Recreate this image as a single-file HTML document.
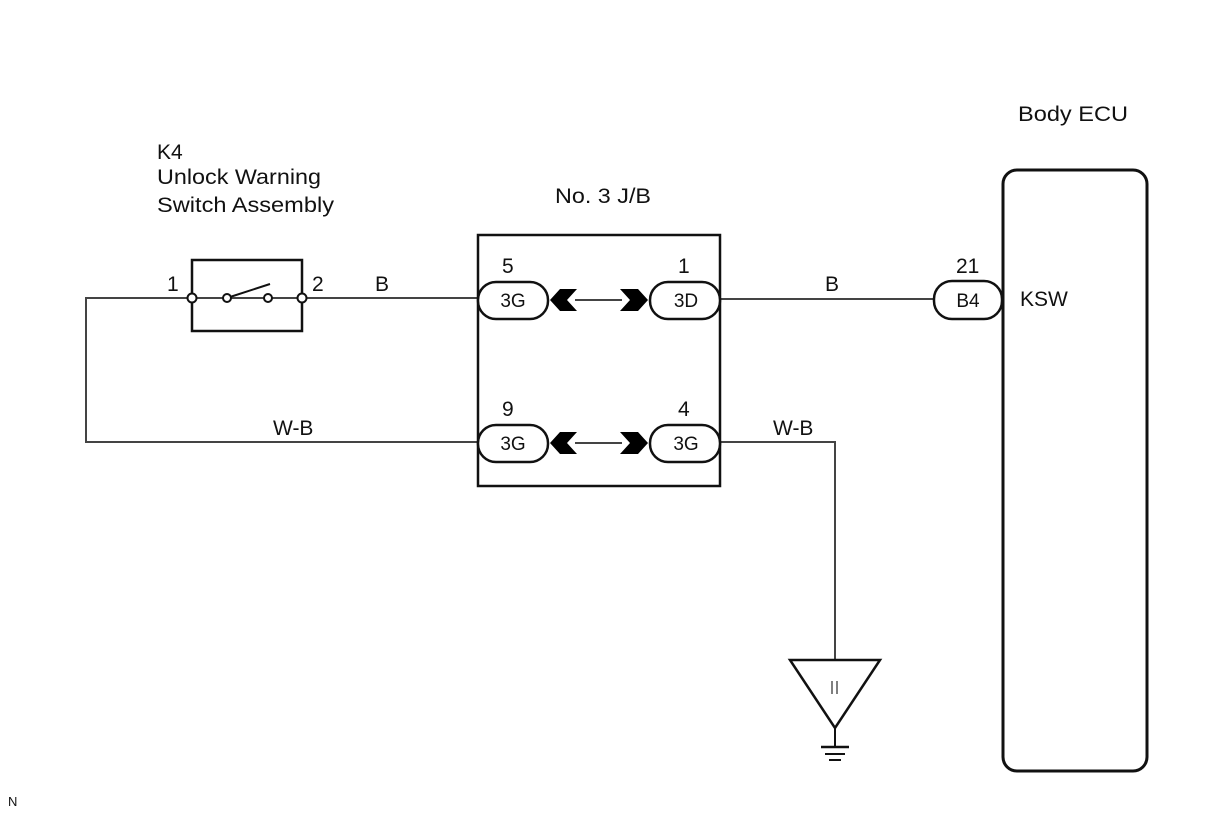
<!DOCTYPE html>
<html><head><style>body{margin:0;background:#fff}svg{display:block}text{font-family:"Liberation Sans",Arial,sans-serif;fill:#111}</style></head>
<body>
<svg width="1210" height="814" viewBox="0 0 1210 814" xmlns="http://www.w3.org/2000/svg">
<g fill="none" stroke="#444">
<polyline points="192,298 86,298 86,442 478,442" stroke-width="2"/>
<line x1="302" y1="298" x2="478" y2="298" stroke-width="2"/>
<line x1="720" y1="299" x2="934" y2="299" stroke-width="2"/>
<polyline points="720,442 835,442 835,660" stroke-width="2"/>
<line x1="575" y1="300" x2="622" y2="300" stroke-width="2"/>
<line x1="575" y1="443" x2="622" y2="443" stroke-width="2"/>
<line x1="192" y1="298" x2="302" y2="298" stroke-width="2"/>
</g>
<g fill="none" stroke="#111">
<rect x="192" y="260" width="110" height="71" stroke-width="2.5"/>
<line x1="230" y1="297" x2="270" y2="284" stroke-width="2"/>
<rect x="478" y="235" width="242" height="251" stroke-width="2.5"/>
<rect x="478" y="282" width="70" height="37" rx="18" fill="#fff" stroke-width="2.5"/>
<rect x="650" y="282" width="70" height="37" rx="18" fill="#fff" stroke-width="2.5"/>
<rect x="478" y="425" width="70" height="37" rx="18" fill="#fff" stroke-width="2.5"/>
<rect x="650" y="425" width="70" height="37" rx="18" fill="#fff" stroke-width="2.5"/>
<rect x="934" y="281" width="68" height="38" rx="18" fill="#fff" stroke-width="2.5"/>
<rect x="1003" y="170" width="144" height="601" rx="14" stroke-width="3"/>
<polygon points="790,660 880,660 835,728" stroke-width="2.5" fill="#fff"/>
<line x1="835" y1="728" x2="835" y2="746" stroke-width="2"/>
<line x1="821" y1="747" x2="849" y2="747" stroke-width="2.5"/>
<line x1="825" y1="754" x2="845" y2="754" stroke-width="2"/>
<line x1="829" y1="760" x2="841" y2="760" stroke-width="2"/>
<line x1="832" y1="681" x2="832" y2="694" stroke-width="1.5" stroke="#555"/>
<line x1="837" y1="681" x2="837" y2="694" stroke-width="1.5" stroke="#555"/>
</g>
<g fill="#fff" stroke="#111" stroke-width="2">
<circle cx="192" cy="298" r="4.5"/><circle cx="302" cy="298" r="4.5"/>
<circle cx="227" cy="298" r="4"/><circle cx="268" cy="298" r="4"/>
</g>
<g fill="#000">
<polygon points="550,300 560,289 577,289 567,300 577,311 560,311"/>
<polygon points="648,300 638,289 620,289 630,300 620,311 638,311"/>
<polygon points="550,443 560,432 577,432 567,443 577,454 560,454"/>
<polygon points="648,443 638,432 620,432 630,443 620,454 638,454"/>
</g>
<g font-size="21">
<text x="1018" y="121" textLength="110" lengthAdjust="spacingAndGlyphs">Body ECU</text>
<text x="157" y="159">K4</text>
<text x="157" y="184" textLength="164" lengthAdjust="spacingAndGlyphs">Unlock Warning</text>
<text x="157" y="212" textLength="177" lengthAdjust="spacingAndGlyphs">Switch Assembly</text>
<text x="555" y="203" textLength="96" lengthAdjust="spacingAndGlyphs">No. 3 J/B</text>
<text x="167" y="291">1</text>
<text x="312" y="291">2</text>
<text x="375" y="291">B</text>
<text x="825" y="291">B</text>
<text x="273" y="435">W-B</text>
<text x="773" y="435">W-B</text>
<text x="502" y="273">5</text>
<text x="678" y="273">1</text>
<text x="502" y="416">9</text>
<text x="678" y="416">4</text>
<text x="956" y="273">21</text>
<text x="1020" y="306">KSW</text>
</g>
<g font-size="19" text-anchor="middle">
<text x="513" y="307">3G</text>
<text x="686" y="307">3D</text>
<text x="513" y="450">3G</text>
<text x="686" y="450">3G</text>
<text x="968" y="307">B4</text>
</g>
<text x="8" y="806" font-size="13">N</text>
</svg>
</body></html>
